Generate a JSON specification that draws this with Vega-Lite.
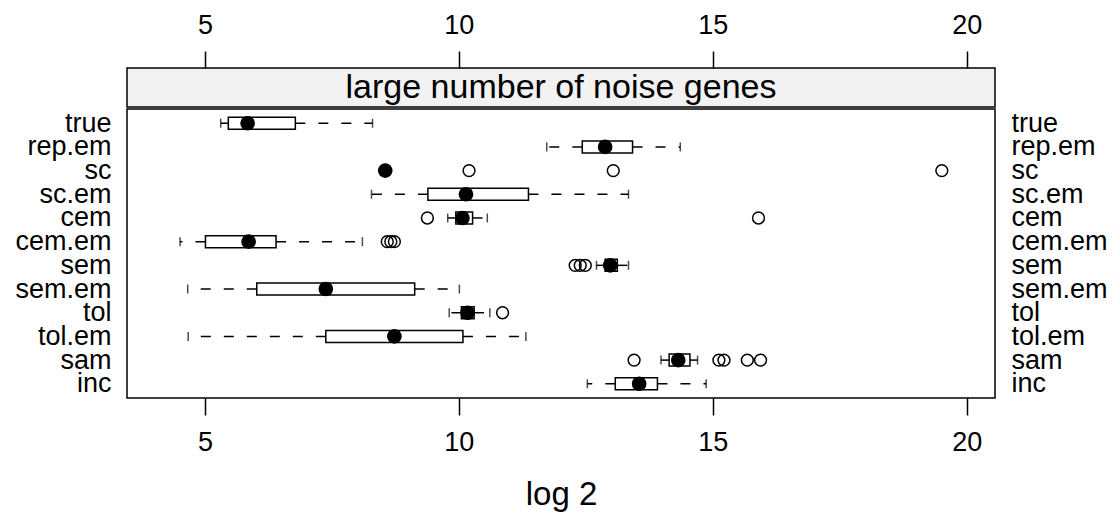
{
  "$schema": "https://vega.github.io/schema/vega-lite/v6.json",
  "padding": {"left": 14, "top": 10, "right": 0, "bottom": 0},
  "background": "white",
  "config": {
    "font": "Liberation Sans",
    "axis": {"grid": false, "domain": false, "labelColor": "black", "titleColor": "black", "tickColor": "black", "labelFont": "Liberation Sans", "titleFont": "Liberation Sans", "titleFontWeight": "normal"},
    "view": {"stroke": "black", "strokeWidth": 1.5}
  },
  "datasets": {
    "stats": [
      {"method": "true", "lo": 5.31, "q1": 5.46, "med": 5.84, "q3": 6.78, "hi": 8.30},
      {"method": "rep.em", "lo": 11.73, "q1": 12.43, "med": 12.88, "q3": 13.42, "hi": 14.36},
      {"method": "sc", "lo": 8.55, "q1": 8.55, "med": 8.55, "q3": 8.55, "hi": 8.55},
      {"method": "sc.em", "lo": 8.28, "q1": 9.39, "med": 10.14, "q3": 11.37, "hi": 13.34},
      {"method": "cem", "lo": 9.78, "q1": 9.94, "med": 10.07, "q3": 10.27, "hi": 10.56},
      {"method": "cem.em", "lo": 4.51, "q1": 5.01, "med": 5.86, "q3": 6.40, "hi": 8.10},
      {"method": "sem", "lo": 12.71, "q1": 12.88, "med": 12.98, "q3": 13.12, "hi": 13.34},
      {"method": "sem.em", "lo": 4.66, "q1": 6.02, "med": 7.38, "q3": 9.13, "hi": 10.01},
      {"method": "tol", "lo": 9.81, "q1": 10.05, "med": 10.17, "q3": 10.30, "hi": 10.61},
      {"method": "tol.em", "lo": 4.67, "q1": 7.38, "med": 8.73, "q3": 10.08, "hi": 11.32},
      {"method": "sam", "lo": 13.98, "q1": 14.14, "med": 14.32, "q3": 14.55, "hi": 14.70},
      {"method": "inc", "lo": 12.53, "q1": 13.08, "med": 13.55, "q3": 13.91, "hi": 14.87}
    ],
    "outliers": [
      {"method": "sc", "value": 10.20},
      {"method": "sc", "value": 13.04},
      {"method": "sc", "value": 19.51},
      {"method": "cem", "value": 9.38},
      {"method": "cem", "value": 15.90},
      {"method": "cem.em", "value": 8.59},
      {"method": "cem.em", "value": 8.66},
      {"method": "cem.em", "value": 8.73},
      {"method": "sem", "value": 12.29},
      {"method": "sem", "value": 12.39},
      {"method": "sem", "value": 12.49},
      {"method": "tol", "value": 10.86},
      {"method": "sam", "value": 13.45},
      {"method": "sam", "value": 15.12},
      {"method": "sam", "value": 15.22},
      {"method": "sam", "value": 15.68},
      {"method": "sam", "value": 15.94}
    ],
    "strip": [{"label": "large number of noise genes", "pos": 12.011}]
  },
  "spacing": 0,
  "vconcat": [
    {
      "width": 868,
      "height": 39,
      "view": {"fill": "#f2f2f2", "stroke": "black", "strokeWidth": 1.5},
      "data": {"name": "strip"},
      "mark": {"type": "text", "fontSize": 34, "font": "Liberation Sans", "color": "black", "baseline": "middle", "align": "center"},
      "encoding": {
        "x": {"field": "pos", "type": "quantitative", "scale": {"domain": [3.465, 20.557], "nice": false, "zero": false},
          "axis": {"orient": "top", "values": [5, 10, 15, 20], "tickSize": 17, "tickWidth": 1.5, "labelPadding": 12, "labelFontSize": 27, "title": null}},
        "text": {"field": "label"}
      }
    },
    {
      "width": 868,
      "height": 289,
      "resolve": {"axis": {"y": "independent"}},
      "layer": [
        {
          "data": {"name": "stats"},
          "mark": {"type": "rule", "color": "black", "strokeWidth": 1.5, "strokeDash": [10, 13]},
          "encoding": {
            "y": {"field": "method", "type": "nominal", "sort": null, "scale": {"type": "point", "padding": 0.6},
              "axis": {"orient": "left", "ticks": false, "labelFontSize": 27, "labelPadding": 16, "title": null}},
            "x": {"field": "q1", "type": "quantitative", "scale": {"domain": [3.465, 20.557], "nice": false, "zero": false},
              "axis": {"orient": "bottom", "values": [5, 10, 15, 20], "tickSize": 17, "tickWidth": 1.5, "labelPadding": 14, "labelFontSize": 27, "title": "log 2", "titleFontSize": 33, "titlePadding": 23}},
            "x2": {"field": "lo"}
          }
        },
        {
          "data": {"name": "stats"},
          "mark": {"type": "rule", "color": "black", "strokeWidth": 1.5, "strokeDash": [10, 13]},
          "encoding": {
            "y": {"field": "method", "type": "nominal", "sort": null, "axis": null},
            "x": {"field": "q3", "type": "quantitative"},
            "x2": {"field": "hi"}
          }
        },
        {
          "data": {"name": "stats"},
          "transform": [{"fold": ["lo", "hi"], "as": ["end", "endval"]}],
          "mark": {"type": "tick", "orient": "vertical", "color": "black", "size": 9, "thickness": 1.5},
          "encoding": {
            "y": {"field": "method", "type": "nominal", "sort": null, "axis": null},
            "x": {"field": "endval", "type": "quantitative"}
          }
        },
        {
          "data": {"name": "stats"},
          "mark": {"type": "bar", "fill": "white", "stroke": "black", "strokeWidth": 1.5, "size": 12},
          "encoding": {
            "y": {"field": "method", "type": "nominal", "sort": null, "axis": null},
            "x": {"field": "q1", "type": "quantitative"},
            "x2": {"field": "q3"}
          }
        },
        {
          "data": {"name": "outliers"},
          "mark": {"type": "point", "shape": "circle", "filled": false, "color": "black", "strokeWidth": 1.5, "size": 140, "opacity": 1},
          "encoding": {
            "y": {"field": "method", "type": "nominal", "sort": null, "axis": null},
            "x": {"field": "value", "type": "quantitative"}
          }
        },
        {
          "data": {"name": "stats"},
          "mark": {"type": "point", "shape": "circle", "filled": true, "color": "black", "size": 215, "opacity": 1},
          "encoding": {
            "y": {"field": "method", "type": "nominal", "sort": null,
              "axis": {"orient": "right", "ticks": false, "labelFontSize": 27, "labelPadding": 16, "labelAlign": "left", "title": null}},
            "x": {"field": "med", "type": "quantitative"}
          }
        }
      ]
    }
  ]
}
